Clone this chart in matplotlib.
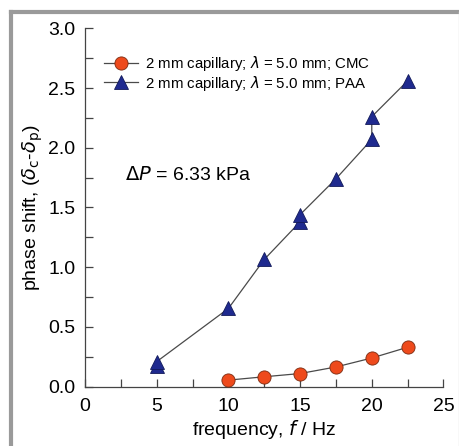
import numpy as np
import matplotlib.pyplot as plt
from matplotlib.lines import Line2D
from matplotlib.ticker import MultipleLocator

plt.rcParams['font.family'] = ['Liberation Sans', 'DejaVu Sans']
plt.rcParams['mathtext.fontset'] = 'dejavusans'

# phase shift vs frequency, 2 mm capillary
f_cmc = [10, 12.5, 15, 17.5, 20, 22.5]
ps_cmc = [0.055, 0.083, 0.11, 0.165, 0.24, 0.33]

f_paa = [5, 5, 10, 12.5, 15, 15, 17.5, 20, 20, 22.5]
ps_paa = [0.17, 0.21, 0.655, 1.065, 1.38, 1.44, 1.74, 2.07, 2.26, 2.56]

lbl_cmc = r'2 mm capillary; $\lambda$ = 5.0 mm; CMC'
lbl_paa = r'2 mm capillary; $\lambda$ = 5.0 mm; PAA'

fig = plt.figure(figsize=(4.6, 4.46), dpi=100)
ax = fig.add_axes([0.185, 0.133, 0.779, 0.8036])

ax.plot(f_cmc, ps_cmc, '-', color='#4a4a4a', lw=0.9, marker='o', ms=9.5,
        mfc='#ee4a1c', mec='#7a2a10', mew=0.6, label=lbl_cmc, zorder=3)
ax.plot(f_paa, ps_paa, '-', color='#4a4a4a', lw=0.9, marker='^', ms=10,
        mfc='#1f2a8f', mec='#121a5a', mew=0.6, label=lbl_paa, zorder=3)

ax.set_xlim(0, 25)
ax.set_ylim(0, 3.0)
ax.xaxis.set_major_locator(MultipleLocator(5))
ax.xaxis.set_minor_locator(MultipleLocator(2.5))
ax.yaxis.set_major_locator(MultipleLocator(0.5))
ax.yaxis.set_minor_locator(MultipleLocator(0.25))
ax.yaxis.set_major_formatter(plt.FormatStrFormatter('%.1f'))
ax.tick_params(which='both', direction='in', length=6, width=0.9,
               color='#444444', labelsize=14)
ax.tick_params(axis='x', pad=8)
ax.tick_params(axis='y', pad=7)
ax.spines[['top', 'right']].set_visible(False)
for s in ('left', 'bottom'):
    ax.spines[s].set_color('#444444')
    ax.spines[s].set_linewidth(0.9)

ax.set_xlabel(r'frequency, $f$ / Hz', fontsize=14, labelpad=2)
ax.set_ylabel(r'phase shift, ($\delta_\mathrm{c}$-$\delta_\mathrm{p}$)',
              fontsize=14, labelpad=2)

ax.text(2.8, 1.77, r'$\Delta P$ = 6.33 kPa', fontsize=14, va='center')

ax.legend(loc='upper left', bbox_to_anchor=(0.035, 0.945), frameon=False,
          fontsize=10.8, handlelength=2.3, handletextpad=0.45,
          labelspacing=0.05, borderaxespad=0)

# grey frame around the panel
fig.add_artist(Line2D([0.024, 1.0], [0.973, 0.973], color='#9a9a9a', lw=3))
fig.add_artist(Line2D([0.024, 0.024], [0.0, 0.973], color='#9a9a9a', lw=3))
fig.add_artist(Line2D([0.998, 0.998], [0.0, 0.973], color='#dddddd', lw=1))

fig.savefig('out.png', dpi=100)
